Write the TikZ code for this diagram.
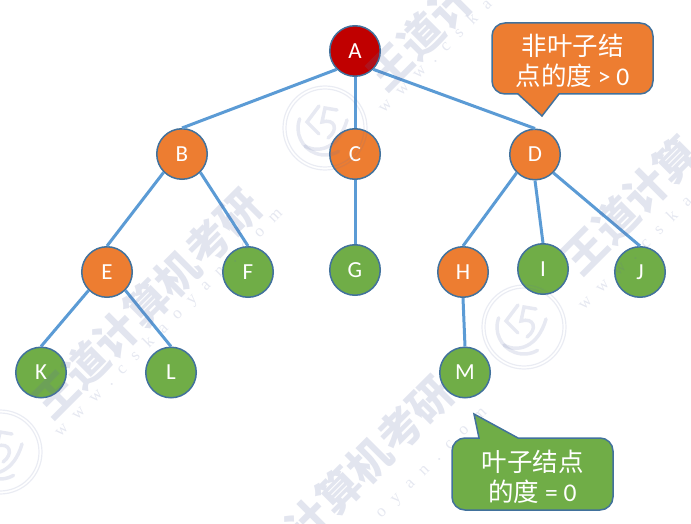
\documentclass[tikz,border=0pt]{standalone}
\usepackage{fontspec}
\setmainfont{Carlito}
\newfontfamily\cjk{Noto Sans CJK SC}
\newfontfamily\wmurlfont[LetterSpace=70]{Liberation Serif}
\definecolor{lineblue}{RGB}{91,155,213}
\definecolor{edgeblue}{RGB}{65,113,156}
\definecolor{orangefill}{RGB}{237,125,49}
\definecolor{greenfill}{RGB}{112,173,71}
\definecolor{redfill}{RGB}{192,0,0}
\definecolor{wmark}{RGB}{95,110,165}
\tikzset{
  treenode/.style={circle,draw=edgeblue,line width=1.5pt,minimum size=50.5pt,inner sep=0pt,text=white,font=\fontsize{23}{23}\selectfont},
  inner/.style={treenode,fill=orangefill},
  leaf/.style={treenode,fill=greenfill},
  root/.style={treenode,fill=redfill},
  branch/.style={draw=lineblue,line width=3pt},
  callout/.style={draw=edgeblue,line width=1.5pt},
  calltext/.style={text=white,align=center,inner sep=0pt,font=\fontsize{25.5}{29.5}\selectfont},
  wmtext/.style={text=wmark,text opacity=.18,inner sep=0pt,font=\fontsize{43}{43}\selectfont\bfseries\cjk,rotate=45},
  wmurl/.style={text=wmark,text opacity=.16,inner sep=0pt,font=\fontsize{17}{17}\selectfont\wmurlfont,rotate=45},
  wmline/.style={draw=wmark,draw opacity=.13,line width=1.2pt},
  wmthick/.style={draw=wmark,draw opacity=.15,line width=3.5pt,line cap=round}
}
\newcommand{\sealmark}[1]{%
  \begin{scope}[shift={(#1)}]
    \draw[wmline] (0,0) circle[radius=42];
    \draw[wmline] (0,0) circle[radius=39];
    \draw[wmthick] (200:27) arc[start angle=200,end angle=60,radius=27];
    \draw[wmthick] (-6,-22) -- (-18,-6) -- (-6,6);
    \draw[wmthick] (12,-18) -- (0,-20) -- (-3,-6) .. controls (10,-10) and (14,2) .. (3,10);
    \draw[wmthick] (-20,18) .. controls (-6,26) and (14,20) .. (22,-8);
  \end{scope}}
\begin{document}
\begin{tikzpicture}[x=1pt,y=-1pt]
\useasboundingbox (0,0) rectangle (691,524);
% tree
\node[root]  (A) at (355,51)  {A};
\node[inner] (B) at (182,154) {B};
\node[inner] (C) at (355,154) {C};
\node[inner] (D) at (535,154.5) {D};
\node[inner] (E) at (107,272) {E};
\node[leaf]  (F) at (248,272) {F};
\node[leaf]  (G) at (355,270) {G};
\node[inner] (H) at (463,272) {H};
\node[leaf]  (I) at (543,269) {I};
\node[leaf]  (J) at (640,272) {J};
\node[leaf]  (K) at (41,372.5)  {K};
\node[leaf]  (L) at (171,372.5) {L};
\node[leaf]  (M) at (465,372.5) {M};
\foreach \a/\b in {A.south west/B.north,A.south/C.north,A.south east/D.north,
  B.south west/E.north,B.south east/F.north,C.south/G.north,
  D.south west/H.north,D.south/I.north,D.south east/J.north,
  E.south west/K.north,E.south east/L.north,H.south/M.north}
  \draw[branch] (\a) -- (\b);
% callouts
\draw[callout,fill=orangefill]
  (505,23) -- (640,23) arc[start angle=-90,end angle=0,radius=13] -- (653,81)
  arc[start angle=0,end angle=90,radius=13] -- (559,94) -- (542,116) -- (518,94) -- (505,94)
  arc[start angle=90,end angle=180,radius=13] -- (492,36) arc[start angle=180,end angle=270,radius=13] -- cycle;
\node[calltext] (t1) at (572.5,61) {{\cjk 非叶子结}\\{\cjk 点的度} > 0};
\draw[callout,fill=greenfill]
  (465,438) -- (479,438) -- (474,414) -- (518,438) -- (600,438) arc[start angle=-90,end angle=0,radius=13] -- (613,497)
  arc[start angle=0,end angle=90,radius=13] -- (465,510)
  arc[start angle=90,end angle=180,radius=13] -- (452,451) arc[start angle=180,end angle=270,radius=13] -- cycle;
\node[calltext] (t2) at (532.5,477) {{\cjk 叶子结点}\\{\cjk 的度} = 0};
% watermark
\sealmark{325,128}
\sealmark{524,327}
\sealmark{0,452}
\node[wmtext] (w1) at (147,304) {王道计算机考研};
\node[wmtext,anchor=west] (w2) at (375,82) {王道计};
\node[wmtext,anchor=west] (w3) at (570,266) {王道计算};
\node[wmtext] (w4) at (339,491) {王道计算机考研};
\node[wmurl] (u1) at (169,323) {www.cskaoyan.com};
\node[wmurl,anchor=west] (u2) at (380,110) {www.cska};
\node[wmurl,anchor=west] (u3) at (580,307) {www.cska};
\node[wmurl,anchor=east] (u4) at (486,411) {oyan.com};
\end{tikzpicture}
\end{document}
